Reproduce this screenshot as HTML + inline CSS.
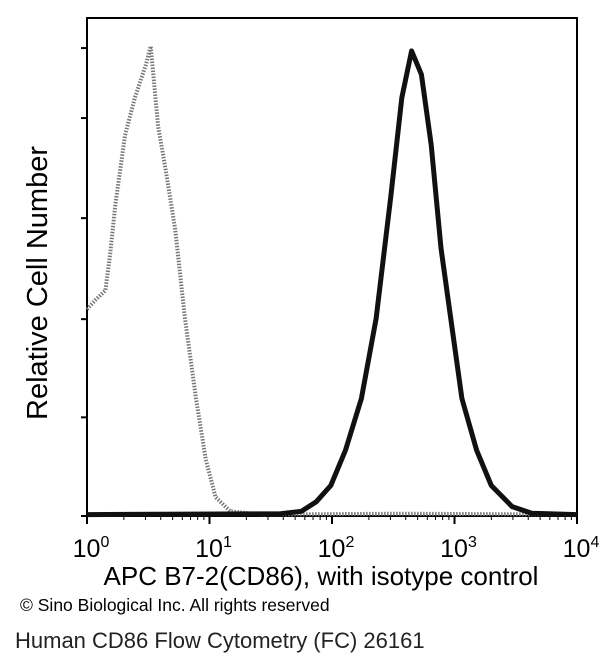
<!DOCTYPE html>
<html><head><meta charset="utf-8"><style>
body{margin:0;background:#fff;width:600px;height:665px;overflow:hidden;font-family:"Liberation Sans",sans-serif}
</style></head><body>
<svg width="600" height="665" xmlns="http://www.w3.org/2000/svg">
<g id="plot"></g>
<text x="47" y="283" transform="rotate(-90 47 283)" text-anchor="middle" font-size="29">Relative Cell Number</text>
<text x="321" y="585" text-anchor="middle" font-size="26">APC  B7-2(CD86), with isotype control</text>
<text x="20" y="611" font-size="17.5">© Sino Biological Inc. All rights reserved</text>
<text x="15" y="648" font-size="22" fill="#222">Human CD86 Flow Cytometry (FC) 26161</text>
</svg>
<script>
const tickExps=[0,1,2,3,4];
const isoLog=[0,0.07,0.15,0.19,0.23,0.31,0.39,0.48,0.52,0.58,0.64,0.72,0.80,0.89,0.97,1.05,1.17,1.42,2.56,4];
const isoCount=[44,46,48,56,66,81,89,96,100,83,74,61,42,25,12,4,1,0.3,0.5,0.3];
const cdLog=[0,1.58,1.75,1.87,1.99,2.11,2.24,2.36,2.48,2.57,2.65,2.73,2.81,2.89,2.98,3.06,3.18,3.30,3.47,3.63,4];
const cdCount=[0.3,0.5,1,3,6.5,14,25,42,68,89,99,94,79,57,40,25,14,6.5,2,0.6,0.3];
const yTicks=[0,21,41.9,63.4,84.7,99.6];
const L=87,R=577,T=18,B=516,YMAX=106;
const sx=v=>L+(v/4)*(R-L);
const sy=v=>B-(v/YMAX)*(B-T);
const NS="http://www.w3.org/2000/svg";
const g=document.getElementById('plot');
function mk(t,a){const e=document.createElementNS(NS,t);for(const k in a)e.setAttribute(k,a[k]);g.appendChild(e);return e;}
const frame=mk('rect',{x:L,y:T,width:R-L,height:B-T,fill:'none',stroke:'#000','stroke-width':2});


tickExps.forEach(e=>{
  const x=sx(e);
  const t=mk('line',{x1:x,x2:x,y1:B,y2:B+8,stroke:'#000','stroke-width':2});
  
  
  if(e<4)for(let m=2;m<10;m++){const xm=sx(e+Math.log10(m));const mt=mk('line',{x1:xm,x2:xm,y1:B,y2:B+4,stroke:'#000','stroke-width':1});
    
    }
  const tx=mk('text',{x:x+4,y:557,'text-anchor':'middle','font-size':25});
  
  
  tx.textContent='10';
  const s=document.createElementNS(NS,'tspan');s.setAttribute('dy','-10');s.setAttribute('font-size','16');s.textContent=String(e);tx.appendChild(s);
});
yTicks.forEach(v=>{const y=sy(v);const t=mk('line',{x1:L-6,x2:L,y1:y,y2:y,stroke:'#000','stroke-width':2});
  
  });
function path(xs,ys){return xs.map((v,i)=>(i?'L':'M')+sx(v).toFixed(1)+','+sy(ys[i]).toFixed(1)).join(' ');}
const iso=mk('path',{d:path(isoLog,isoCount),fill:'none',stroke:'#777','stroke-width':4,'stroke-dasharray':'1.5 1.5','stroke-linejoin':'round'});


const cd=mk('path',{d:path(cdLog,cdCount),fill:'none',stroke:'#111','stroke-width':5,'stroke-linejoin':'round'});


</script>
</body></html>
